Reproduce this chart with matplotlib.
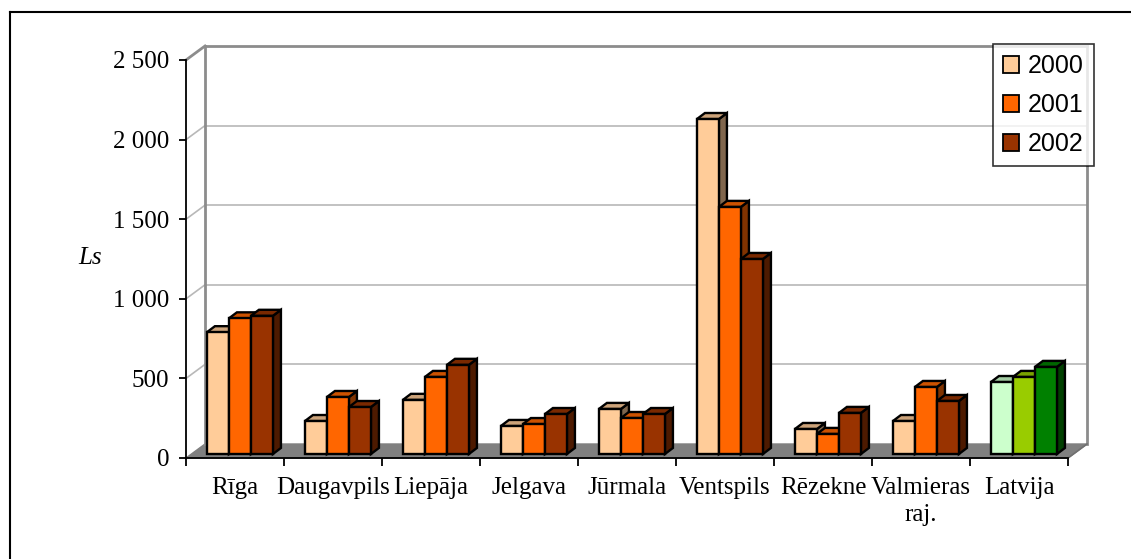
import numpy as np
import matplotlib
matplotlib.use("Agg")
import matplotlib.pyplot as plt
from matplotlib.patches import Polygon, Patch
from matplotlib.colors import to_rgb

categories = ["Rīga", "Daugavpils", "Liepāja", "Jelgava", "Jūrmala",
              "Ventspils", "Rēzekne", "Valmieras\nraj.", "Latvija"]
years = ["2000", "2001", "2002"]
v2000 = [765, 207, 340, 176, 283, 2104, 157, 207, 452]
v2001 = [852, 358, 484, 188, 226, 1552, 126, 421, 484]
v2002 = [868, 295, 560, 251, 251, 1225, 258, 333, 547]
yticks = [0, 500, 1000, 1500, 2000, 2500]
ytick_labels = ["0", "500", "1 000", "1 500", "2 000", "2 500"]

colors = ["#FFCC99", "#FF6600", "#993300"]
colors_total = ["#CCFFCC", "#99CC00", "#008000"]

# pseudo 3d geometry (data units)
DX, DY = 0.194, 88       # depth of floor / walls
BX, BY = 0.05, 25        # bar front plane offset
BDX, BDY = 0.082, 38     # bar depth
BW = 0.2245              # bar width

serif = ["Liberation Serif", "DejaVu Serif"]
plt.rcParams["font.family"] = serif

fig = plt.figure(figsize=(11.31, 5.59), dpi=100)
ax = fig.add_axes([186 / 1131, 101 / 559, 882 / 1131, 398 / 559])
ax.set_xlim(0, len(categories))
ax.set_ylim(0, 2500)
ax.patch.set_alpha(0)


def shade(c, f):
    r, g, b = to_rgb(c)
    return (r * f, g * f, b * f)


n = len(categories)
# floor
ax.add_patch(Polygon([(0, 0), (n, 0), (n + DX, DY), (DX, DY)], closed=True,
                     facecolor="#808080", edgecolor="#808080", lw=1,
                     clip_on=False, zorder=1))
# grid on walls
for v in yticks[1:]:
    lc = "#8c8c8c" if v == yticks[-1] else "#b8b8b8"
    lw = 2 if v == yticks[-1] else 1.2
    ax.plot([0, DX], [v, v + DY], color=lc, lw=lw, clip_on=False, zorder=1)
    ax.plot([DX, n + DX], [v + DY, v + DY], color=lc, lw=lw, clip_on=False, zorder=1)
ax.plot([DX, DX], [DY, yticks[-1] + DY], color="#8c8c8c", lw=2, clip_on=False, zorder=1)
ax.plot([n + DX, n + DX], [DY, yticks[-1] + DY], color="#8c8c8c", lw=2,
        clip_on=False, zorder=1)
ax.plot([n, n + DX], [0, DY], color="#707070", lw=1.2, clip_on=False, zorder=1)

# bars
series = [v2000, v2001, v2002]
gap = (1 - 3 * BW) / 2
z = 3
for i in range(n):
    pal = colors_total if i == n - 1 else colors
    for k in range(3):
        v = series[k][i]
        x0 = i + gap + BX + k * BW
        x1 = x0 + BW
        y0, y1 = BY, BY + v
        c = pal[k]
        front = [(x0, y0), (x1, y0), (x1, y1), (x0, y1)]
        top = [(x0, y1), (x1, y1), (x1 + BDX, y1 + BDY), (x0 + BDX, y1 + BDY)]
        side = [(x1, y0), (x1 + BDX, y0 + BDY), (x1 + BDX, y1 + BDY), (x1, y1)]
        for pts, fc in [(side, shade(c, 0.5)), (top, shade(c, 0.8)), (front, c)]:
            ax.add_patch(Polygon(pts, closed=True, facecolor=fc, edgecolor="black",
                                 lw=1.7, joinstyle="miter", clip_on=False, zorder=z))
        z += 1

# axes
for s in ["top", "right"]:
    ax.spines[s].set_visible(False)
for s in ["left", "bottom"]:
    ax.spines[s].set_linewidth(1.3)
    ax.spines[s].set_zorder(z + 1)
ax.set_yticks(yticks)
ax.set_yticklabels(ytick_labels)
ax.set_xticks(np.arange(n) + 0.5)
ax.set_xticklabels(categories, linespacing=1.25)
ax.set_xticks(np.arange(n + 1), minor=True)
ax.tick_params(axis="y", length=5, width=1.3, pad=7, labelsize=18)
ax.tick_params(axis="x", which="major", length=0, pad=14, labelsize=18)
ax.tick_params(axis="x", which="minor", length=6, width=1.3)

fig.text(90 / 1131, 1 - 258 / 559, "Ls", fontsize=18, style="italic",
         ha="center", va="center")

handles = [Patch(facecolor=c, edgecolor="black", lw=1.3) for c in colors]
leg = fig.legend(handles, years, loc="upper right",
                 bbox_to_anchor=(1094 / 1131, 1 - 44 / 559), borderaxespad=0,
                 prop={"family": ["Liberation Sans", "DejaVu Sans"], "size": 18},
                 fancybox=False, frameon=True, edgecolor="black",
                 handlelength=0.66, handleheight=0.66, handletextpad=0.35,
                 labelspacing=0.6, borderpad=0.4)
leg.get_frame().set_linewidth(1.2)

# outer frame (top and left edges visible)
fig.add_artist(plt.Line2D([10 / 1131, 1], [1 - 12 / 559, 1 - 12 / 559],
                          color="black", lw=1.5, transform=fig.transFigure))
fig.add_artist(plt.Line2D([10 / 1131, 10 / 1131], [0, 1 - 12 / 559],
                          color="black", lw=1.5, transform=fig.transFigure))

fig.savefig("out.png", dpi=100)
